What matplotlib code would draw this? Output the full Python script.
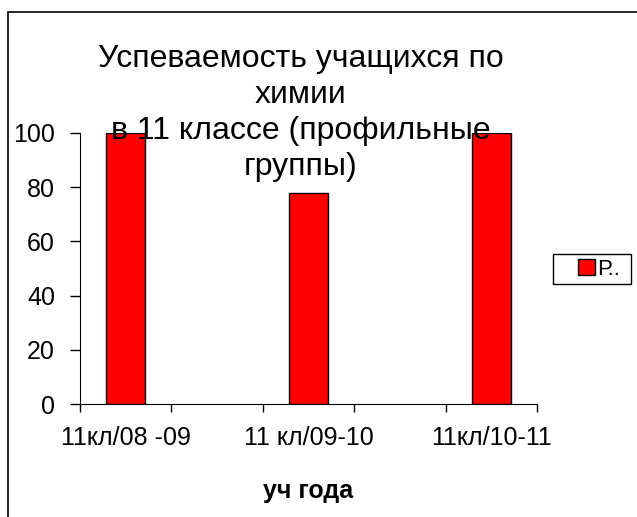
import numpy as np
import matplotlib.pyplot as plt
from matplotlib.patches import Rectangle

plt.rcParams['font.family'] = ['Liberation Sans', 'DejaVu Sans']

# 5 category slots on the axis, only every other one is labelled / filled
slots = np.arange(5)
bar_slots = [0, 2, 4]
years = ['11кл/08 -09', '11 кл/09-10', '11кл/10-11']
values = [100, 78, 100]
series_name = 'Р..'
title = 'Успеваемость учащихся по\nхимии\nв 11 классе (профильные\nгруппы)'

W, H = 637, 517
fig = plt.figure(figsize=(W / 100, H / 100), dpi=100)

# outer chart frame (Excel style)
fig.patches.append(Rectangle((8 / W, -0.1), 1.2, 1 - 12 / H + 0.1,
                             transform=fig.transFigure, fill=False,
                             edgecolor='black', linewidth=1.2))

ax = fig.add_axes([80 / W, (H - 404) / H, (537 - 80) / W, (404 - 133) / H])
bars = ax.bar(bar_slots, values, width=0.43, color='#ff0000',
              edgecolor='black', linewidth=1, label=series_name)

ax.set_xlim(-0.5, 4.5)
ax.set_ylim(0, 100)
ax.set_yticks(np.arange(0, 101, 20))
ax.set_xticks(np.arange(-0.5, 5, 1))
ax.set_xticklabels([])
ax.set_xticks(bar_slots, minor=True)
ax.set_xticklabels(years, minor=True)
ax.tick_params(axis='x', which='minor', length=0, pad=16, labelsize=18)
ax.tick_params(axis='x', which='major', length=6, width=1, direction='out')
ax.tick_params(axis='y', length=7, width=1, direction='out', labelsize=18, pad=11)
for s in ['top', 'right']:
    ax.spines[s].set_visible(False)
ax.patch.set_alpha(0)

ax.set_xlabel('уч года', fontsize=18, fontweight='bold', labelpad=21)

fig.text(301 / W, 1 - 113 / H, title, ha='center', va='center',
         fontsize=23, linespacing=1.25)

# legend box drawn like Excel's (wide left margin)
fig.patches.append(Rectangle((553 / W, 1 - 284 / H), 78 / W, 30 / H,
                             transform=fig.transFigure, facecolor='white',
                             edgecolor='black', linewidth=1))
fig.legend(handles=[bars], labels=[series_name], loc='center left',
           bbox_to_anchor=(578 / W, 1 - 269.5 / H), fontsize=16,
           frameon=False, handlelength=0.75, handleheight=0.75,
           handletextpad=0.12, borderpad=0, borderaxespad=0)

fig.savefig('out.png', dpi=100)
